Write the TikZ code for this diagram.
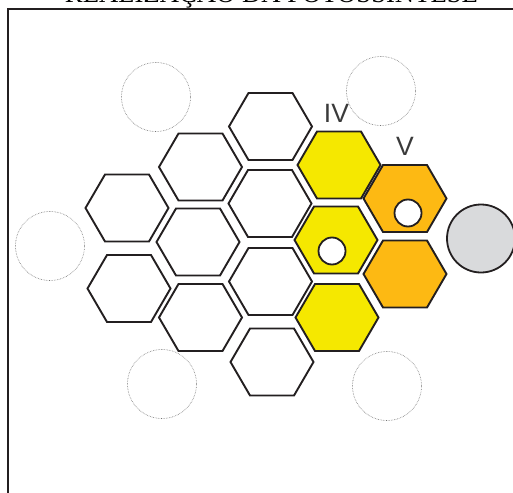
\documentclass[tikz,border=0pt]{standalone}
\usepackage{fontspec}
\setmainfont{Liberation Serif}
\newfontfamily\labfont{Liberation Sans}
\definecolor{hexline}{HTML}{231F20}
\definecolor{hyellow}{HTML}{F5E800}
\definecolor{horange}{HTML}{FDB913}
\definecolor{cgray}{HTML}{D9DADC}
\definecolor{labcol}{HTML}{3A3A3A}
\newcommand\hexat[3]{%
  \filldraw[hexstyle,#3] (#1,#2) ++(-41.5,0) -- ++(19.5,-33.5) -- ++(44,0)
    -- ++(19.5,33.5) -- ++(-19.5,33.5) -- ++(-44,0) -- cycle;}
\tikzset{
  hexstyle/.style={draw=hexline,line width=1.9pt,line join=miter},
  ghost/.style={draw=black!55,densely dotted,line width=0.6pt},
  hole/.style={draw=hexline,fill=white,line width=1.8pt},
  lab/.style={font=\labfont\fontsize{26.5}{30}\selectfont,text=labcol,inner sep=0pt,anchor=base}
}
\begin{document}
\begin{tikzpicture}[x=1pt,y=-1pt]
\useasboundingbox (0,0) rectangle (513,492);
\clip (0,0) rectangle (513,492);
% title (cut at top, as in the reference)
\node[anchor=base,inner sep=0pt] (title) at (271.5,2.5) {\resizebox{413pt}{!}{REALIZAÇÃO DA FOTOSSÍNTESE}};
% frame
\draw[line width=2pt,draw=hexline] (8,9) rectangle (530,510);
% ghost circles
\draw[ghost] (156,97) circle (34.5);
\draw[ghost] (50,246) circle (34.5);
\draw[ghost] (381,91) circle (34.5);
\draw[ghost] (162,384) circle (34.5);
\draw[ghost] (387,386) circle (34.5);
% white hexagons
\hexat{127}{208}{fill=white}
\hexat{129}{288.5}{fill=white}
\hexat{200.5}{167}{fill=white}
\hexat{198}{242}{fill=white}
\hexat{200.5}{317.5}{fill=white}
\hexat{270.5}{126.5}{fill=white}
\hexat{270}{203.5}{fill=white}
\hexat{270.5}{281.5}{fill=white}
\hexat{272}{362}{fill=white}
% yellow
\hexat{339}{165}{fill=hyellow}
\hexat{336}{240}{fill=hyellow}
\hexat{337}{317.5}{fill=hyellow}
% orange
\hexat{405}{198.5}{fill=horange}
\hexat{405}{274}{fill=horange}
% holes
\draw[hole] (332,251) circle (13.5);
\draw[hole] (408,213) circle (13.5);
% gray circle
\draw[draw=hexline,fill=cgray,line width=1.8pt] (481,238.5) circle (34);
% labels
\node[lab] (iv) at (336.5,122) {IV};
\node[lab] (v) at (405,155) {V};
\end{tikzpicture}
\end{document}
